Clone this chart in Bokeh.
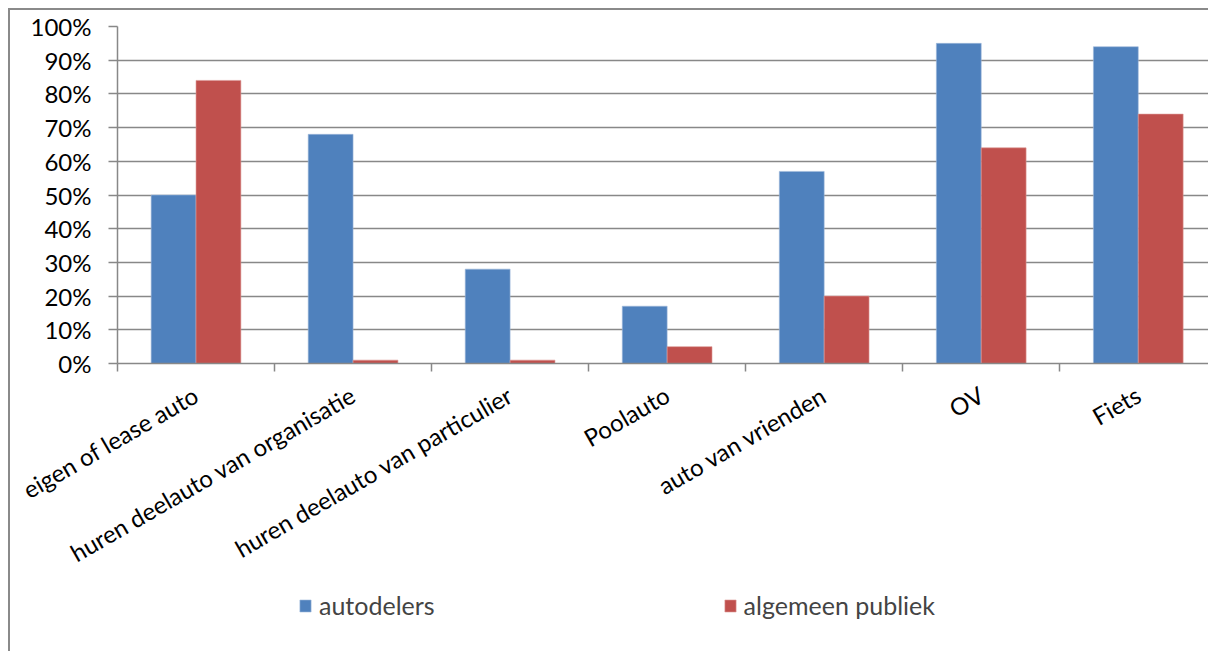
from bokeh.plotting import figure
from bokeh.layouts import column
from bokeh.models import Range1d, FixedTicker, Legend, LegendItem, ColumnDataSource
from bokeh.embed import file_html
from bokeh.resources import INLINE
import math

# Share of respondents using each mode of transport
categories = ["eigen of lease auto", "huren deelauto van organisatie",
              "huren deelauto van particulier", "Poolauto",
              "auto van vrienden", "OV", "Fiets"]
autodelers = [0.50, 0.68, 0.28, 0.17, 0.57, 0.95, 0.94]
algemeen_publiek = [0.84, 0.01, 0.01, 0.05, 0.20, 0.64, 0.74]
y_ticks = [i / 10 for i in range(11)]
y_tick_labels = ["%d%%" % round(t * 100) for t in y_ticks]
series_labels = ["autodelers", "algemeen publiek"]

FONT = "Lato"
FSIZE = "24px"
GRID = "#888888"
FRAME = "2px solid #8a8a8a"
BLUE = "#4F81BD"
RED = "#C0504D"

n = len(categories)
centers = [i + 0.5 for i in range(n)]
bar_w = 1 / 3.5  # Excel-style gap width of 150%

src = ColumnDataSource(dict(
    x_a=[c - bar_w / 2 for c in centers],
    x_b=[c + bar_w / 2 for c in centers],
    a=autodelers, b=algemeen_publiek,
))
bar_styles = [dict(top="a", x="x_a", fill_color=BLUE, line_color="#9fb8da"),
              dict(top="b", x="x_b", fill_color=RED, line_color="#dc9896")]

# ---- main chart -----------------------------------------------------------
p = figure(width=1198, height=575, output_backend="svg", toolbar_location=None,
           x_range=Range1d(0, 6.96), y_range=Range1d(0, 1),
           min_border_left=107, min_border_right=0, min_border_top=16,
           min_border_bottom=224)
p.margin = (8, 0, 0, 8)
p.styles = {"border-top": FRAME, "border-left": FRAME, "box-sizing": "content-box"}
p.outline_line_color = None
p.background_fill_color = "white"
p.border_fill_color = "white"

for st in bar_styles:
    p.vbar(width=bar_w, source=src, line_width=0.6, **st)

# x axis: ticks between categories, labels at category centres
xax = p.xaxis[0]
xax.ticker = FixedTicker(ticks=centers, minor_ticks=list(range(n + 1)))
xax.major_label_overrides = {c: name for c, name in zip(centers, categories)}
xax.major_label_orientation = math.pi / 6
xax.major_tick_out = 0
xax.major_tick_in = 0
xax.minor_tick_out = 8
xax.minor_tick_in = 0
xax.minor_tick_line_color = GRID
xax.minor_tick_line_width = 1.5
xax.axis_line_color = GRID
xax.axis_line_width = 1.5
xax.major_label_text_font = FONT
xax.major_label_text_font_size = FSIZE
xax.major_label_text_color = "black"
xax.major_label_standoff = 21

yax = p.yaxis[0]
yax.ticker = FixedTicker(ticks=y_ticks, minor_ticks=[])
yax.major_label_overrides = {t: l for t, l in zip(y_ticks, y_tick_labels)}
yax.major_tick_out = 9
yax.major_tick_in = 0
yax.major_tick_line_color = GRID
yax.major_tick_line_width = 1.5
yax.axis_line_color = GRID
yax.axis_line_width = 1.5
yax.major_label_text_font = FONT
yax.major_label_text_font_size = FSIZE
yax.major_label_text_color = "black"
yax.major_label_standoff = 17

p.xgrid.grid_line_color = None
p.ygrid.ticker = FixedTicker(ticks=y_ticks)
p.ygrid.grid_line_color = GRID
p.ygrid.grid_line_width = 1.5

# ---- legend strip underneath ---------------------------------------------
lg = figure(width=1198, height=66, output_backend="svg", toolbar_location=None,
            x_range=Range1d(0, 1), y_range=Range1d(0, 1),
            x_axis_location=None, y_axis_location=None,
            min_border_left=107, min_border_right=0, min_border_top=0,
            min_border_bottom=0)
lg.margin = (0, 0, 0, 8)
lg.styles = {"border-left": FRAME, "box-sizing": "content-box"}
lg.outline_line_color = None
lg.grid.visible = False
lg.background_fill_color = "white"
lg.border_fill_color = "white"

key_renderers = [lg.vbar(width=bar_w, source=src, line_width=0.6, visible=False, **st)
                 for st in bar_styles]

legend = Legend(items=[LegendItem(label=lab, renderers=[r])
                       for lab, r in zip(series_labels, key_renderers)],
                orientation="horizontal", location=(181, 31),
                spacing=288, glyph_width=14, glyph_height=15, label_standoff=7,
                label_text_font=FONT, label_text_font_size="25px",
                border_line_color=None, background_fill_alpha=0,
                inactive_fill_alpha=0, padding=0, margin=0)
lg.add_layout(legend, "center")

layout = column(p, lg, spacing=0)
open("out.html", "w").write(file_html(layout, INLINE))
